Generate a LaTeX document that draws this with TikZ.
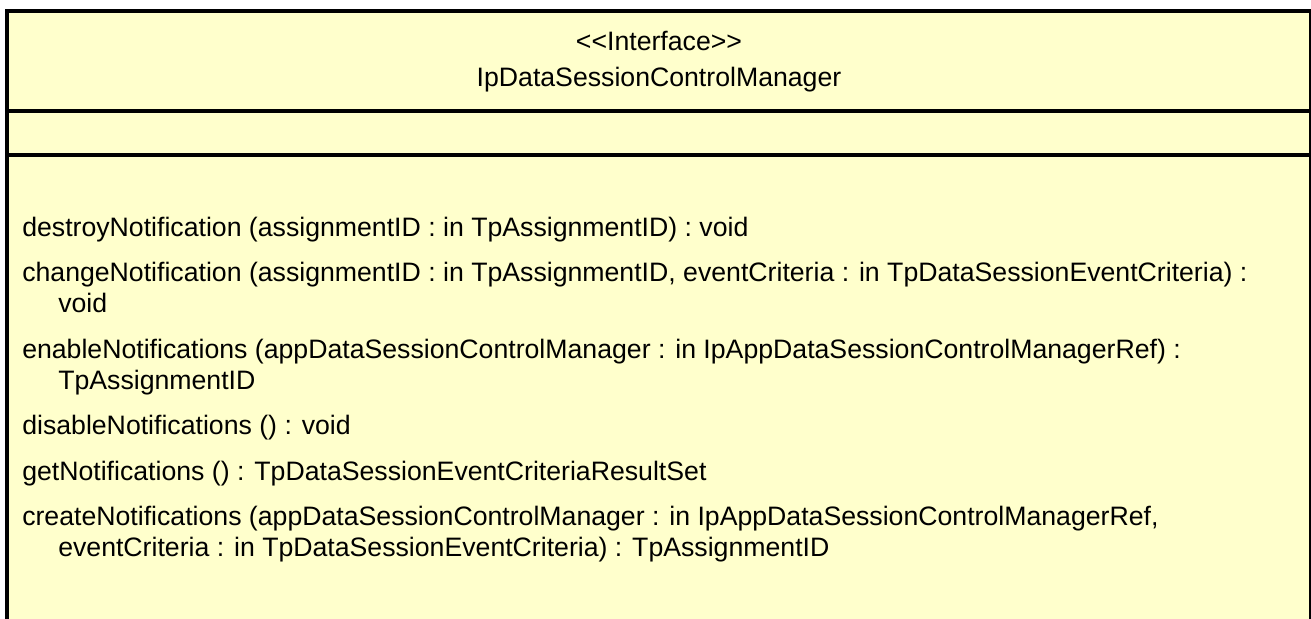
\documentclass[tikz,border=0pt]{standalone}
\usepackage{fontspec}
\setmainfont{Liberation Sans}
\usepackage{xcolor}
\usepackage{tikz}

\definecolor{classfill}{HTML}{FFFFCC}

\begin{document}
\begin{tikzpicture}[
  x=0.75pt, y=-0.75pt,
  frame/.style={line width=3pt, draw=black},
  title/.style={anchor=base, inner sep=0pt, font=\fontsize{20}{23}\selectfont},
  op/.style={anchor=base west, inner sep=0pt, align=left, font=\fontsize{20}{23}\selectfont}
]
\useasboundingbox (0,0) rectangle (1311,618);
% class box, open at the bottom
\fill[classfill] (7,11) rectangle (1313,620);
\draw[frame] (7,620) -- (7,11) -- (1311,11) -- (1311,620);
\draw[frame] (7,110.5) -- (1311,110.5);
\draw[frame] (7,155) -- (1311,155);
% header
\node[title] (stereo) at (659,50) {{<}{<}Interface{>}{>}};
\node[title] (name) at (659,86) {IpDataSessionControlManager};
% operations (base = last line of each node)
\node[op] (destroy) at (22,236) {destroyNotification (assignmentID : in TpAssignmentID) : void};
\node[op] (change) at (22,312.5) {changeNotification (assignmentID : in TpAssignmentID, eventCriteria : in TpDataSessionEventCriteria) :\\\hspace*{27pt}void};
\node[op] (enable) at (22,389) {enableNotifications (appDataSessionControlManager : in IpAppDataSessionControlManagerRef) :\\\hspace*{27pt}TpAssignmentID};
\node[op] (disable) at (22,434.5) {disableNotifications () : void};
\node[op] (get) at (22,480) {getNotifications () : TpDataSessionEventCriteriaResultSet};
\node[op] (create) at (22,556.5) {createNotifications (appDataSessionControlManager : in IpAppDataSessionControlManagerRef,\\\hspace*{27pt}eventCriteria : in TpDataSessionEventCriteria) : TpAssignmentID};
\end{tikzpicture}
\end{document}
